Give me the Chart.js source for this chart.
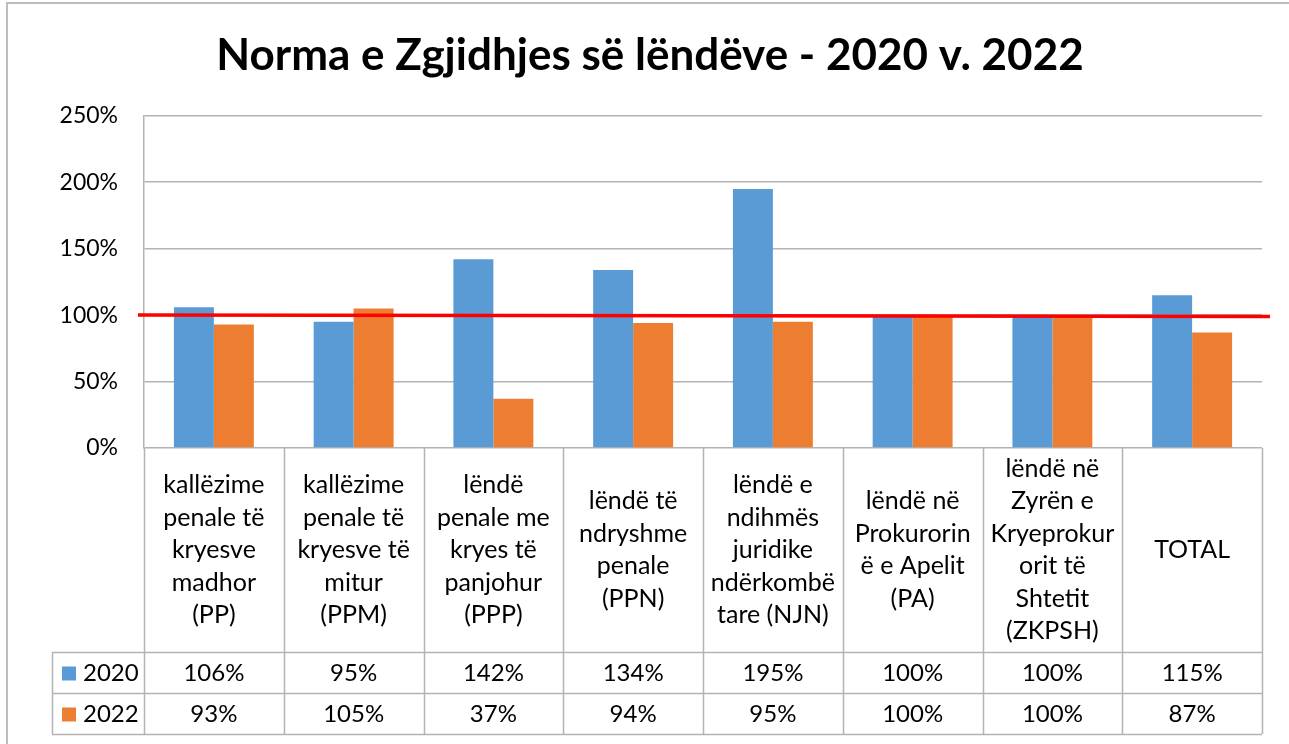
<!DOCTYPE html>
<html>
<head>
<meta charset="utf-8">
<title>Norma e Zgjidhjes së lëndëve - 2020 v. 2022</title>
<script src="https://cdn.jsdelivr.net/npm/chart.js@4.4.0/dist/chart.umd.min.js"></script>
<style>
    html, body { margin: 0; padding: 0; background: #fff; }
    #wrap { width: 1289px; height: 744px; position: relative; }
</style>
</head>
<body>
<div id="wrap"><canvas id="chart" width="1289" height="744"></canvas></div>
<script>
// ------------------------------------------------------------
// Data
// ------------------------------------------------------------
const categories = [
    ['kallëzime', 'penale të', 'kryesve', 'madhor', '(PP)'],
    ['kallëzime', 'penale të', 'kryesve të', 'mitur', '(PPM)'],
    ['lëndë', 'penale me', 'kryes të', 'panjohur', '(PPP)'],
    ['lëndë të', 'ndryshme', 'penale', '(PPN)'],
    ['lëndë e', 'ndihmës', 'juridike', 'ndërkombë', 'tare (NJN)'],
    ['lëndë në', 'Prokurorin', 'ë e Apelit', '(PA)'],
    ['lëndë në', 'Zyrën e', 'Kryeprokur', 'orit të', 'Shtetit', '(ZKPSH)'],
    ['TOTAL'],
];
const seriesNames = ['2020', '2022'];
const values2020 = [106, 95, 142, 134, 195, 100, 100, 115];
const values2022 = [93, 105, 37, 94, 95, 100, 100, 87];
const yTickValues = [0, 50, 100, 150, 200, 250];
const targetLine = 100;

const COLORS = ['#5B9BD5', '#ED7D31'];
const GRID = '#b3b3b3';
const FONT = 'Lato';

// Data table under the plot (drawn from the x scale)
const dataTable = {
    id: 'dataTable',
    afterDraw(chart) {
        const { ctx, chartArea, scales } = chart;
        const x = scales.x;
        const n = categories.length;
        const colW = (chartArea.right - chartArea.left) / n;
        const top = chartArea.bottom;
        const catBottom = top + 204;
        const rowH = [41, 41];
        const tableBottom = catBottom + rowH[0] + rowH[1];
        const legendLeft = 52;

        ctx.save();
        ctx.strokeStyle = GRID;
        ctx.lineWidth = 1.5;
        ctx.beginPath();
        // vertical lines
        for (let i = 0; i <= n; i++) {
            const px = Math.round(chartArea.left + i * colW) + 0.5;
            ctx.moveTo(px, top);
            ctx.lineTo(px, tableBottom);
        }
        ctx.moveTo(legendLeft + 0.5, catBottom);
        ctx.lineTo(legendLeft + 0.5, tableBottom);
        // horizontal lines
        let yy = catBottom;
        [0].concat(rowH).forEach(h => {
            yy += h;
            const py = Math.round(yy) + 0.5;
            ctx.moveTo(legendLeft, py);
            ctx.lineTo(chartArea.right, py);
        });
        ctx.stroke();

        // category labels
        ctx.fillStyle = '#000';
        ctx.font = `25px ${FONT}`;
        ctx.textAlign = 'center';
        ctx.textBaseline = 'middle';
        const lh = 32.5;
        categories.forEach((lines, i) => {
            const cx = x.getPixelForValue(i);
            const mid = (top + catBottom) / 2;
            const start = mid - (lines.length - 1) * lh / 2;
            lines.forEach((t, k) => ctx.fillText(t, cx, start + k * lh));
        });

        // series rows
        ctx.font = `24px ${FONT}`;
        [values2020, values2022].forEach((vals, r) => {
            const rowTop = catBottom + (r === 0 ? 0 : rowH[0]);
            const cy = rowTop + rowH[r] / 2 + 1;
            ctx.fillStyle = COLORS[r];
            ctx.fillRect(62, cy - 7, 14, 14);
            ctx.fillStyle = '#000';
            ctx.textAlign = 'left';
            ctx.fillText(seriesNames[r], 83, cy);
            ctx.textAlign = 'center';
            vals.forEach((v, i) => ctx.fillText(v + '%', x.getPixelForValue(i), cy));
        });
        ctx.restore();
    }
};

// Red reference line at 100 %
const targetPlugin = {
    id: 'targetLine',
    afterDatasetsDraw(chart) {
        const { ctx, chartArea, scales } = chart;
        const py = scales.y.getPixelForValue(targetLine);
        ctx.save();
        ctx.strokeStyle = '#ff0000';
        ctx.lineWidth = 3.5;
        ctx.beginPath();
        ctx.moveTo(chartArea.left - 6, py);
        ctx.lineTo(chartArea.right + 8, py + 1.5);
        ctx.stroke();
        ctx.restore();
    }
};

// Chart outer border
const frame = {
    id: 'frame',
    beforeDraw(chart) {
        const { ctx } = chart;
        ctx.save();
        ctx.fillStyle = '#fff';
        ctx.fillRect(0, 0, chart.width, chart.height);
        ctx.strokeStyle = '#bdbdbd';
        ctx.lineWidth = 2;
        ctx.strokeRect(7, 3, chart.width + 20, chart.height + 20);
        ctx.restore();
    }
};

new Chart(document.getElementById('chart'), {
    type: 'bar',
    data: {
        labels: categories,
        datasets: [
            { label: seriesNames[0], data: values2020, backgroundColor: COLORS[0] },
            { label: seriesNames[1], data: values2022, backgroundColor: COLORS[1] },
        ]
    },
    options: {
        responsive: false,
        animation: false,
        layout: { padding: { left: 38, right: 27, top: 0, bottom: 296 } },
        datasets: { bar: { categoryPercentage: 0.572, barPercentage: 1.0 } },
        plugins: {
            legend: { display: false },
            tooltip: { enabled: false },
            title: {
                display: true,
                text: 'Norma e Zgjidhjes së lëndëve - 2020 v. 2022',
                color: '#000',
                font: { family: FONT, size: 44, weight: 'bold' },
                padding: { top: 29, bottom: 34 }
            }
        },
        scales: {
            x: { display: false },
            y: {
                min: 0,
                max: 250,
                afterFit: (s) => { s.width = 106; },
                afterBuildTicks: (s) => { s.ticks = yTickValues.map(v => ({ value: v })); },
                ticks: {
                    padding: 26,
                    color: '#000',
                    font: { family: FONT, size: 23 },
                    callback: (v) => v + '%'
                },
                grid: { color: GRID, lineWidth: 1.5, drawTicks: false },
                border: { display: true, color: GRID, width: 1.5 }
            }
        }
    },
    plugins: [frame, targetPlugin, dataTable]
});
</script>
</body>
</html>
